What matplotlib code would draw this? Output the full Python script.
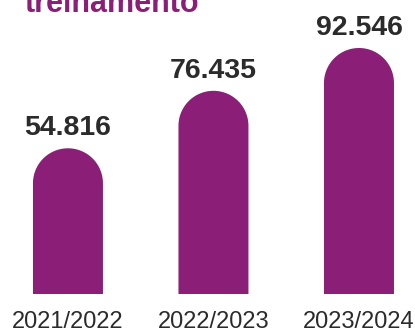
import matplotlib
matplotlib.use("Agg")
import matplotlib.pyplot as plt
import numpy as np
from matplotlib.patches import PathPatch
from matplotlib.path import Path

# data
seasons = ["2021/2022", "2022/2023", "2023/2024"]
values = [54.816, 76.435, 92.546]
value_labels = ["54.816", "76.435", "92.546"]
title = "treinamento"

purple = "#8b1e76"
dark = "#2b2b2b"
fonts = ["Liberation Sans", "DejaVu Sans"]

W, H = 415, 332
fig = plt.figure(figsize=(W / 100, H / 100), dpi=100)
ax = fig.add_axes([0, 0, 1, 1])
xlim = (-0.467, 2.385)
ylim = (-14.3, 110.6)
ax.set_xlim(*xlim)
ax.set_ylim(*ylim)
ax.axis("off")

width = 0.481
# radius of rounded cap in y units so it looks like a half circle on screen
xpx = W / (xlim[1] - xlim[0])
ypx = H / (ylim[1] - ylim[0])
rx = width / 2
ry = rx * xpx / ypx


def rounded_bar(x, v):
    t = np.linspace(0, np.pi, 60)
    arc_x = x + rx * np.cos(t)
    arc_y = (v - ry) + ry * np.sin(t)
    px = np.concatenate([[x + rx], arc_x, [x - rx, x + rx]])
    py = np.concatenate([[0], arc_y, [0, 0]])
    verts = np.column_stack([px, py])
    codes = [Path.MOVETO] + [Path.LINETO] * (len(verts) - 2) + [Path.CLOSEPOLY]
    return PathPatch(Path(verts, codes), facecolor=purple, edgecolor="none")


for x, v, lab, s in zip(range(len(values)), values, value_labels, seasons):
    ax.add_patch(rounded_bar(x, v))
    ax.annotate(lab, xy=(x, v), xytext=(0, 9.4), textcoords="offset points",
                ha="center", va="baseline", fontsize=20.5, fontweight="bold",
                color=dark, family=fonts)
    ax.annotate(s, xy=(x, 0), xytext=(0, -24.5), textcoords="offset points",
                ha="center", va="baseline", fontsize=17, color=dark,
                family=fonts)

fig.text(25 / W, 1 - 12 / H, title, ha="left", va="baseline", fontsize=22,
         fontweight="bold", color=purple, family=fonts)

fig.savefig("out.png", dpi=100)
